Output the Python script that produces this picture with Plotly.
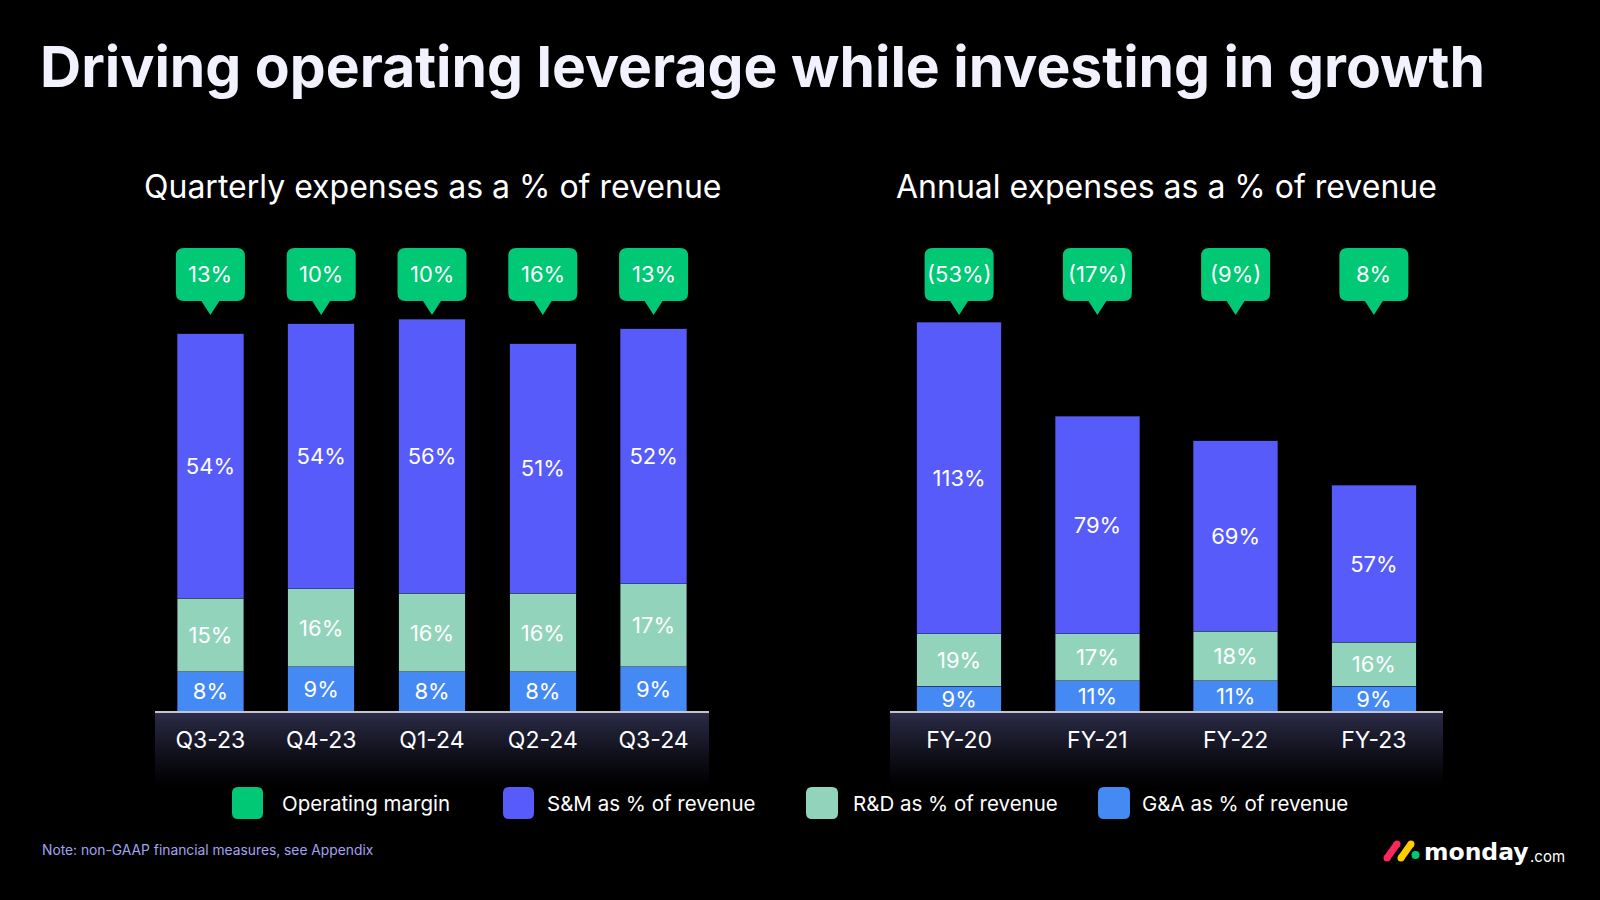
import plotly.graph_objects as go

# ---------------- data ----------------
quarters = ["Q3-23", "Q4-23", "Q1-24", "Q2-24", "Q3-24"]
q_sm = [54, 54, 56, 51, 52]
q_rd = [15, 16, 16, 16, 17]
q_ga = [8, 9, 8, 8, 9]
q_margin = [13, 10, 10, 16, 13]

years = ["FY-20", "FY-21", "FY-22", "FY-23"]
y_sm = [113, 79, 69, 57]
y_rd = [19, 17, 18, 16]
y_ga = [9, 11, 11, 9]
y_margin = [-53, -17, -9, 8]

series_names = ["Operating margin", "S&M as % of revenue", "R&D as % of revenue", "G&A as % of revenue"]
title_text = "Driving operating leverage while investing in growth"
subtitles = ["Quarterly expenses as a % of revenue", "Annual expenses as a % of revenue"]
note_text = "Note: non-GAAP financial measures, see Appendix"

# ---------------- style ----------------
W, H = 1600, 900
FONT = "Inter"
GREEN = "#00C875"
SM = "#575BFA"
RD = "#92D4BB"
GA = "#4589F5"
series_colors = [GREEN, SM, RD, GA]


def fx(px):
    return px / W


def fy(py):
    return 1 - py / H


BASE_PX = 711
TOP_PX = 150
Q_PX_PER_PCT = 4.9
Y_PX_PER_PCT = 2.756


def pct(v):
    return f"({abs(v)}%)" if v < 0 else f"{v}%"


fig = go.Figure()

label_font = dict(family=FONT, size=22, color="white")


def add_stack(cats, ga, rd, sm, xa, ya, width):
    for vals, col, name in [(ga, GA, series_names[3]), (rd, RD, series_names[2]), (sm, SM, series_names[1])]:
        fig.add_trace(go.Bar(
            x=cats, y=vals, name=name, xaxis=xa, yaxis=ya,
            marker=dict(color=col, line=dict(color="rgba(30,30,60,0.6)", width=0.8)),
            width=width,
            text=[f"{v}%" for v in vals], textposition="inside",
            insidetextanchor="middle", textangle=0,
            textfont=label_font, hoverinfo="skip", showlegend=False,
        ))


add_stack(quarters, q_ga, q_rd, q_sm, "x", "y", 0.6)
add_stack(years, y_ga, y_rd, y_sm, "x2", "y2", 0.61)

shapes = []
annotations = []


def rrect(x0, y0, x1, y1, r):
    # pixel coords, y up
    return (f"M{x0 + r},{y0} L{x1 - r},{y0} Q{x1},{y0} {x1},{y0 + r} "
            f"L{x1},{y1 - r} Q{x1},{y1} {x1 - r},{y1} L{x0 + r},{y1} "
            f"Q{x0},{y1} {x0},{y1 - r} L{x0},{y0 + r} Q{x0},{y0} {x0 + r},{y0} Z")


# callouts (operating margin)
bw, bh, r, tw, th = 34.5, 53, 8, 9, 14
callout_path = (f"M{-bw + r},0 L{-tw},0 L0,{-th} L{tw},0 L{bw - r},0 Q{bw},0 {bw},{r} "
                f"L{bw},{bh - r} Q{bw},{bh} {bw - r},{bh} L{-bw + r},{bh} Q{-bw},{bh} {-bw},{bh - r} "
                f"L{-bw},{r} Q{-bw},0 {-bw + r},0 Z")
for cats, margins, xref in [(quarters, q_margin, "x"), (years, y_margin, "x2")]:
    for c, m in zip(cats, margins):
        shapes.append(dict(type="path", xref=xref, yref="paper", xsizemode="pixel", ysizemode="pixel",
                           xanchor=c, yanchor=fy(301), path=callout_path,
                           fillcolor=GREEN, line=dict(width=0), layer="above"))
        annotations.append(dict(x=c, xref=xref, y=fy(274.5), yref="paper", text=pct(m),
                                showarrow=False, font=label_font, xanchor="center", yanchor="middle"))

# gradient band under each axis
N = 40
band_top, band_bot = BASE_PX, 792
for dref in ["x domain", "x2 domain"]:
    for i in range(N):
        t = i / (N - 1)
        k = (1 - t) ** 1.3
        col = f"rgb({int(46 * k)},{int(46 * k)},{int(76 * k)})"
        y0 = band_top + (band_bot - band_top) * i / N
        y1 = band_top + (band_bot - band_top) * (i + 1) / N + 0.6
        shapes.append(dict(type="rect", xref=dref, yref="paper", x0=0, x1=1,
                           y0=fy(y1), y1=fy(y0), fillcolor=col, line=dict(width=0), layer="below"))

# custom legend
leg_sq = [(232, 263), (503, 534), (806, 838), (1098, 1130)]
leg_tx = [280, 545, 851, 1140]
leg_y = 803
for (a, b), tx, name, col in zip(leg_sq, leg_tx, series_names, series_colors):
    shapes.append(dict(type="path", xref="paper", yref="paper", xsizemode="pixel", ysizemode="pixel",
                       xanchor=0, yanchor=0, path=rrect(a, H - leg_y - 16, b, H - leg_y + 16, 6),
                       fillcolor=col, line=dict(width=0)))
    annotations.append(dict(x=fx(tx), y=fy(leg_y), xref="paper", yref="paper", text=name,
                            showarrow=False, xanchor="left", yanchor="middle",
                            font=dict(family=FONT, size=20.5, color="white")))

# title, subtitles, note
annotations.append(dict(x=fx(38), y=fy(66), xref="paper", yref="paper", text=title_text,
                        showarrow=False, xanchor="left", yanchor="middle",
                        font=dict(family=FONT, size=57, color="#F2F2FF", weight=700)))
for dref, st in zip(["x domain", "x2 domain"], subtitles):
    annotations.append(dict(x=0.5, xref=dref, y=fy(186), yref="paper", text=st, showarrow=False,
                            xanchor="center", yanchor="middle",
                            font=dict(family=FONT, size=32, color="white")))
annotations.append(dict(x=fx(40), y=fy(850), xref="paper", yref="paper", text=note_text,
                        showarrow=False, xanchor="left", yanchor="middle",
                        font=dict(family=FONT, size=13.8, color="#A3A3F0")))

# logo
for (x0, y0, x1, y1), col in [((1387, 858, 1397, 844), "#FB275D"), ((1401, 858, 1411, 844), "#FFCC00")]:
    shapes.append(dict(type="line", xref="paper", yref="paper", xsizemode="pixel", ysizemode="pixel",
                       xanchor=0, yanchor=0, x0=x0, y0=H - y0, x1=x1, y1=H - y1,
                       line=dict(color=col, width=7)))
    for cx, cy in [(x0, y0), (x1, y1)]:
        shapes.append(dict(type="circle", xref="paper", yref="paper", xsizemode="pixel", ysizemode="pixel",
                           xanchor=0, yanchor=0, x0=cx - 3.5, x1=cx + 3.5, y0=H - cy - 3.5, y1=H - cy + 3.5,
                           fillcolor=col, line=dict(width=0)))
shapes.append(dict(type="circle", xref="paper", yref="paper", xsizemode="pixel", ysizemode="pixel",
                   xanchor=0, yanchor=0, x0=1411.5, x1=1419.5, y0=H - 859, y1=H - 851,
                   fillcolor=GREEN, line=dict(width=0)))
annotations.append(dict(x=fx(1422), y=fy(852), xref="paper", yref="paper", text="monday",
                        showarrow=False, xanchor="left", yanchor="middle",
                        font=dict(family="DejaVu Sans", size=23.5, color="white", weight=700)))
annotations.append(dict(x=fx(1528), y=fy(856), xref="paper", yref="paper", text=".com",
                        showarrow=False, xanchor="left", yanchor="middle",
                        font=dict(family=FONT, size=15, color="white")))

axis_common = dict(type="category", showline=True, linecolor="#C4C4CC", linewidth=2,
                   showgrid=False, zeroline=False, ticks="", ticklabelstandoff=7,
                   tickfont=dict(family=FONT, size=23, color="white"), fixedrange=True)
fig.update_layout(
    width=W, height=H,
    margin=dict(l=0, r=0, t=0, b=0),
    paper_bgcolor="black", plot_bgcolor="rgba(0,0,0,0)",
    barmode="stack", bargap=0.4,
    showlegend=False,
    uniformtext=dict(minsize=22, mode="show"),
    xaxis=dict(domain=[fx(155), fx(709)], range=[-0.5, len(quarters) - 0.5], anchor="y", **axis_common),
    xaxis2=dict(domain=[fx(890), fx(1443)], range=[-0.5, len(years) - 0.5], anchor="y2", **axis_common),
    yaxis=dict(domain=[fy(BASE_PX), fy(TOP_PX)], range=[0, (BASE_PX - TOP_PX) / Q_PX_PER_PCT],
               visible=False, fixedrange=True),
    yaxis2=dict(domain=[fy(BASE_PX), fy(TOP_PX)], range=[0, (BASE_PX - TOP_PX) / Y_PX_PER_PCT],
                visible=False, fixedrange=True, anchor="x2"),
    shapes=shapes,
    annotations=annotations,
)

fig.write_html("out.html", config={"displayModeBar": False},
               post_script="document.body.style.margin='0';document.body.style.background='black';")
